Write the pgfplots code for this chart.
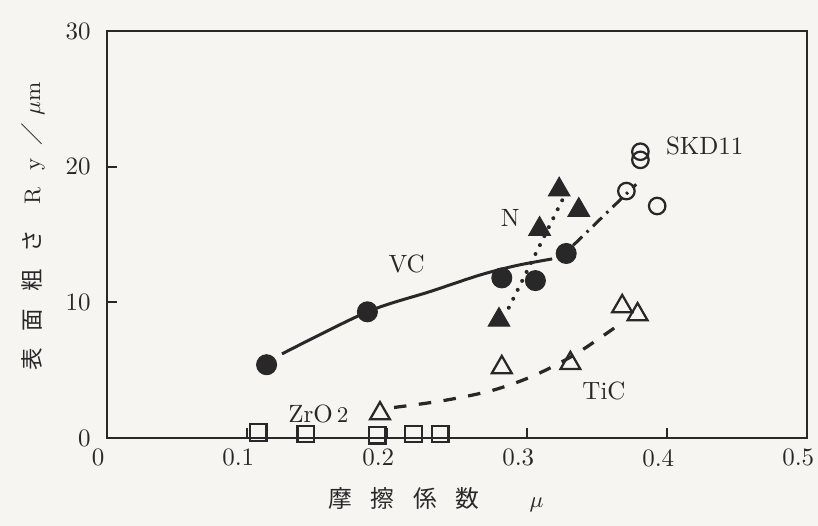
\documentclass[border=0pt]{standalone}
\usepackage{pgfplots}
\pgfplotsset{compat=1.18}
\usepackage{fontspec}
\newfontfamily\jp{Noto Sans CJK JP}
\definecolor{paper}{RGB}{246,245,242}
\definecolor{ink}{RGB}{40,40,40}

\begin{document}
\begin{tikzpicture}
% paper background, 818x526 px at 0.4pt per px
\fill[paper] (-42.8pt,-35.2pt) rectangle ++(327.2pt,210.4pt);
\begin{axis}[
  at={(0,0)}, anchor=origin,
  scale only axis, width=280pt, height=162.8pt,
  xmin=0, xmax=0.5, ymin=0, ymax=30,
  xtick={0,0.1,0.2,0.3,0.4,0.5},
  xticklabels={0,0.1,0.2,0.3,0.4,0.5},
  ytick={0,10,20,30},
  tick align=inside, xtick pos=left, ytick pos=left,
  major tick length=4pt,
  axis line style={ink, line width=0.8pt},
  tick style={ink, line width=0.8pt},
  ticklabel style={ink, font=\fontsize{10}{12}\selectfont},
  xticklabel style={xshift=-3.5pt, yshift=-1pt},
  yticklabel style={xshift=-3pt},
  xlabel={{\jp 摩\hspace{7.5pt}擦\hspace{7.5pt}係\hspace{7.5pt}数}\hspace{20pt}$\mu$},
  xlabel style={at={(axis description cs:0.47,-0.152)}, anchor=center, ink,
    font=\fontsize{9.5}{11}\selectfont},
  ylabel={{\jp 表\hspace{6.8pt}面\hspace{6.8pt}粗\hspace{6.8pt}さ}\hspace{10pt}R\hspace{7pt}y\hspace{5pt}{\jp ／}\hspace{3pt}$\mu$m},
  ylabel style={at={(axis description cs:-0.106,0.52)}, anchor=center, ink,
    font=\fontsize{9}{11}\selectfont},
  clip=false,
]
% VC
\addplot[smooth, line width=1.2pt, ink] coordinates {
  (0.125,6.2) (0.186,9.3) (0.231,10.8) (0.266,12.0) (0.292,12.7) (0.318,13.2)};
\addplot[only marks, mark=*, mark size=4pt, ink] coordinates {
  (0.114,5.4) (0.186,9.3) (0.282,11.8) (0.306,11.6) (0.328,13.6)};
% N
\addplot[line width=1.6pt, dash pattern=on 0pt off 4pt, line cap=round, ink] coordinates {
  (0.287,9.6) (0.326,17.7)};
\addplot[only marks, mark=triangle*, mark size=5pt, ink] coordinates {
  (0.280,8.7) (0.309,15.4) (0.323,18.3) (0.337,16.8)};
% SKD11
\addplot[line width=1.2pt, dash pattern=on 5pt off 2.5pt on 1pt off 2.5pt, ink] coordinates {
  (0.333,14.2) (0.378,18.7)};
\addplot[only marks, mark=o, mark size=3.3pt, mark options={line width=0.9pt}, ink] coordinates {
  (0.381,21.1) (0.381,20.5) (0.371,18.2) (0.393,17.1)};
% TiC
\addplot[smooth, line width=1.3pt, dash pattern=on 5pt off 5pt, ink] coordinates {
  (0.205,2.25) (0.24,2.75) (0.275,3.5) (0.305,4.6) (0.335,6.2) (0.365,8.3)};
\addplot[only marks, mark=triangle, mark size=4.6pt, mark options={line width=0.9pt}, ink] coordinates {
  (0.195,1.8) (0.282,5.2) (0.331,5.5) (0.368,9.7) (0.379,9.1)};
% ZrO2
\addplot[only marks, mark=square, mark size=3.3pt, mark options={line width=0.9pt}, ink] coordinates {
  (0.108,0.4) (0.142,0.3) (0.193,0.2) (0.219,0.3) (0.238,0.3)};

\begin{scope}[every node/.style={ink, font=\fontsize{10}{12}\selectfont}]
\node at (axis cs:0.214,12.8) {VC};
\node at (axis cs:0.288,16.2) {N};
\node[anchor=west] at (axis cs:0.393,21.5) {SKD11};
\node at (axis cs:0.355,3.5) {TiC};
\node at (axis cs:0.151,1.8) {ZrO\,{\fontsize{9}{10}\selectfont 2}};
\end{scope}
\end{axis}
\pgfresetboundingbox
\useasboundingbox (-42.8pt,-35.2pt) rectangle ++(327.2pt,210.4pt);
\end{tikzpicture}
\end{document}
